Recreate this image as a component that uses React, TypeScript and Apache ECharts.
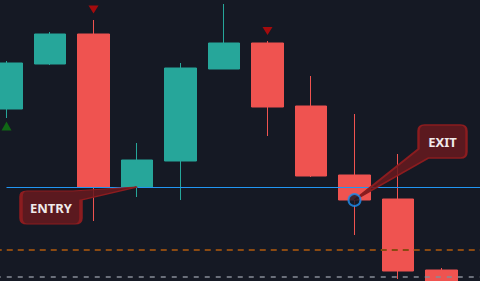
import React, { useEffect, useRef } from "react";
import * as echarts from "echarts";

// ---- data ----
const categories = ["09:00", "09:15", "09:30", "09:45", "10:00", "10:15", "10:30", "10:45", "11:00", "11:15", "11:30", "11:45"];
// [open, close, low, high]
const candles: number[][] = [
  [122.75, 134.25, 120.5, 134.75],
  [134.0, 141.5, 133.75, 142.0],
  [141.5, 103.25, 94.75, 145.0],
  [103.25, 110.0, 100.75, 114.25],
  [109.75, 133.0, 100.0, 134.25],
  [132.75, 139.25, 132.75, 149.0],
  [139.25, 123.25, 116.0, 139.75],
  [123.5, 106.0, 105.75, 131.0],
  [106.25, 100.0, 91.25, 121.5],
  [100.25, 82.25, 80.25, 111.5],
  [82.5, 77.0, 76.0, 83.0],
];
const entryPrice = 103.25;
const targetPrice = 87.5;
const stopPrice = 80.75;
const entryIndex = 3;
const exitIndex = 8;
const exitPrice = 100.0;
const sellSignals: [number, number][] = [[2, 147.6], [6, 142.25]];
const buySignals: [number, number][] = [[0, 118.5]];

const BG = "#151924";
const UP = "#26a69a";
const DOWN = "#ef5350";

// callout shapes (tail tip at a corner of the bounding box)
const entryPath =
  "path://M6 4 L52 4 L116 0 L60 13 L60 31 Q60 37 54 37 L6 37 Q0 37 0 31 L0 10 Q0 4 6 4 Z";
const exitPath =
  "path://M70 0 L106 0 Q112 0 112 6 L112 27 Q112 33 106 33 L74 33 L0 75 L64 24 L64 6 Q64 0 70 0 Z";

export default function App() {
  const ref = useRef<HTMLDivElement>(null);
  useEffect(() => {
    if (!ref.current) return;
    const chart = echarts.init(ref.current, undefined, { renderer: "svg" });
    const labelStyle = {
      show: true,
      color: "#f0eaea",
      fontSize: 13,
      fontWeight: "bold" as const,
      fontFamily: "Noto Sans",
      position: "inside" as const,
    };
    chart.setOption({
      animation: false,
      backgroundColor: BG,
      grid: {
        left: -15.25,
        top: 0,
        width: 522,
        height: 320,
        containLabel: false,
        outerBoundsMode: "none",
      },
      xAxis: {
        type: "category",
        data: categories,
        show: false,
        boundaryGap: true,
      },
      yAxis: { type: "value", min: 70, max: 150, show: false, splitLine: { show: false } },
      series: [
        {
          type: "candlestick",
          data: candles,
          barWidth: 32,
          clip: false,
          itemStyle: {
            color: UP,
            color0: DOWN,
            borderColor: UP,
            borderColor0: DOWN,
            borderWidth: 1,
          },
          markLine: {
            silent: true,
            symbol: "none",
            label: { show: false },
            data: [
              [
                { coord: [categories[0], entryPrice], lineStyle: { color: "#2196f3", width: 1, type: "solid" } },
                { coord: [categories[categories.length - 1], entryPrice] },
              ],
              { yAxis: targetPrice, lineStyle: { color: "#8a4a12", width: 2, type: [6, 5] } },
              { yAxis: stopPrice, lineStyle: { color: "#868c96", width: 1.5, type: [5, 6] } },
            ],
          },
          markPoint: {
            silent: true,
            z: 5,
            data: [
              {
                coord: [categories[entryIndex], entryPrice],
                symbol: entryPath,
                symbolSize: [116, 37],
                symbolOffset: [-58, 18.5],
                itemStyle: { color: "rgba(102,26,30,0.86)", borderColor: "#8b1c1f", borderWidth: 2 },
                label: { ...labelStyle, formatter: "ENTRY", offset: [-28, 2] },
              },
              {
                coord: [categories[exitIndex], exitPrice],
                symbol: exitPath,
                symbolSize: [112, 75],
                symbolOffset: [56, -37.5],
                itemStyle: { color: "rgba(102,26,30,0.86)", borderColor: "#8b1c1f", borderWidth: 2 },
                label: { ...labelStyle, formatter: "EXIT", offset: [32, -21] },
              },
            ],
          },
        },
        {
          type: "scatter",
          data: sellSignals.map(([i, v]) => [categories[i], v]),
          symbol: "triangle",
          symbolRotate: 180,
          symbolSize: [10, 8],
          itemStyle: { color: "#c80808" },
          z: 10,
        },
        {
          type: "scatter",
          data: buySignals.map(([i, v]) => [categories[i], v]),
          symbol: "triangle",
          symbolSize: [10, 9],
          itemStyle: { color: "#0f7a12" },
          z: 10,
        },
        {
          type: "scatter",
          data: [[categories[exitIndex], exitPrice]],
          symbol: "circle",
          symbolSize: 12,
          itemStyle: { color: BG, borderColor: "#1e8ff0", borderWidth: 2 },
          z: 100,
        },
      ],
    });
    return () => chart.dispose();
  }, []);
  return (
    <div
      ref={ref}
      style={{ position: "fixed", left: 0, top: 0, width: 480, height: 281, background: BG }}
    />
  );
}
